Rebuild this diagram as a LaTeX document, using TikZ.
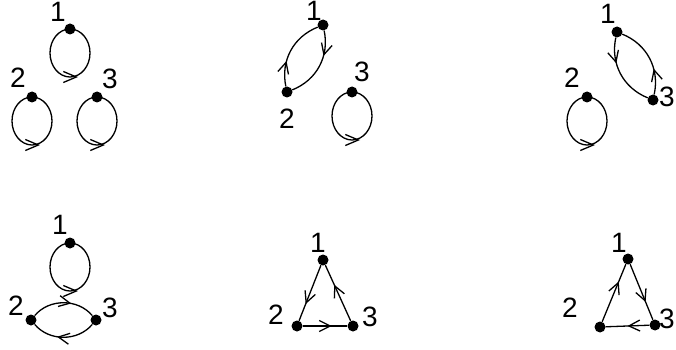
\documentclass[tikz,border=0pt]{standalone}
\usepackage{fontspec}
\setmainfont{Liberation Sans}
\usetikzlibrary{arrows.meta,decorations.markings}

\begin{document}
\begin{tikzpicture}[x=1pt,y=-1pt,
    vtx/.style={circle,fill=black,inner sep=0pt,minimum size=11pt},
    lbl/.style={inner sep=0pt,font=\fontsize{28}{28}\selectfont},
    arc/.style={line width=1.3pt,postaction={decorate},
      decoration={markings,mark=at position #1 with {\arrow{Straight Barb[length=11pt,width=11pt,line width=1.3pt]}}}},
    arc/.default=0.6,
    selfarc/.style={line width=1.3pt,postaction={decorate},
      decoration={markings,mark=at position 0.5 with {\pgftransformxshift{8pt}\arrow{Straight Barb[length=13pt,width=11pt,line width=1.3pt]}}}}]
  \useasboundingbox (0,0) rectangle (676,350);
  % vertices and their numbers
  \foreach \n/\x/\y/\lx/\ly/\t in {
      a1/70/29/58/12/1, a2/32/97/18/78/2, a3/97/97/110/79/3,
      b1/323/25/314/11/1, b2/287/92/287/119/2, b3/352/92/362/72/3,
      c1/617/32/608/14/1, c2/587/97/572/78/2, c3/653/100/667/97/3,
      d1/70/243/60/225/1, d2/31/320/16/306/2, d3/96/320/110/308/3,
      e1/323/260/318/243/1, e2/297/326/276/315/2, e3/353/326/370/317/3,
      f1/628/259/619/243/1, f2/600/327/570/308/2, f3/655/325/667/319/3}
  {
    \node[vtx] (\n) at (\x,\y) {};
    \node[lbl] (l\n) at (\lx,\ly) {\t};
  }
  % self loops
  \foreach \n in {a1,a2,a3,b3,c2,d1}
    \draw[selfarc] (\n.center) arc[start angle=-90,end angle=-450,x radius=20,y radius=24];
  % two-way edges
  \draw[arc=0.35] (b1) to[bend left=40] (b2);
  \draw[arc=0.35] (b2) to[bend left=40] (b1);
  \draw[arc=0.35] (c1) to[bend right=40] (c3);
  \draw[arc=0.35] (c3) to[bend right=40] (c1);
  \draw[arc=0.62] (d2) to[bend left=50] (d3);
  \draw[arc=0.6] (d3) to[bend left=50] (d2);
  % cycles
  \draw[arc=0.7] (e1) -- (e2);
  \draw[arc=0.65] (e2) -- (e3);
  \draw[arc=0.65] (e3) -- (e1);
  \draw[arc=0.7] (f2) -- (f1);
  \draw[arc=0.68] (f1) -- (f3);
  \draw[arc=0.5] (f3) -- (f2);
\end{tikzpicture}
\end{document}
